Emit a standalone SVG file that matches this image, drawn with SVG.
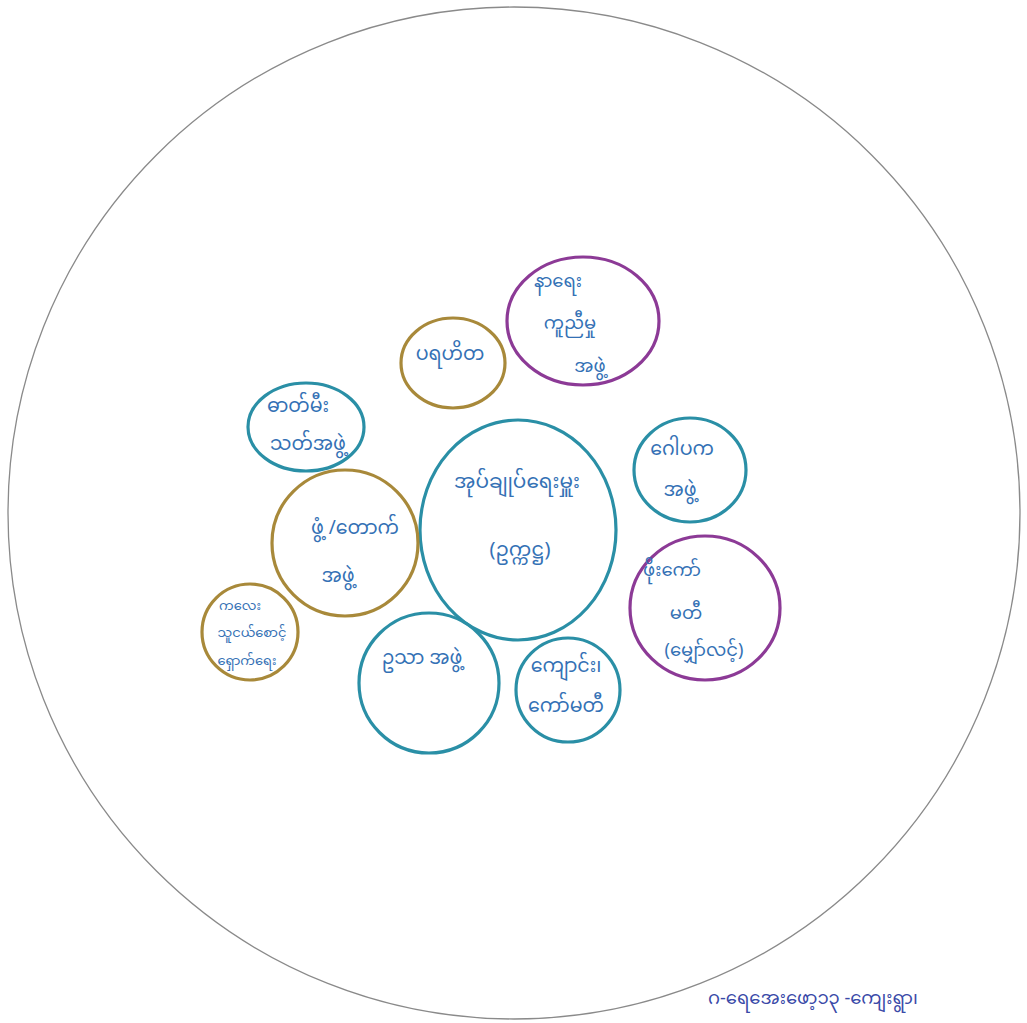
<svg xmlns="http://www.w3.org/2000/svg" width="1027" height="1023" viewBox="0 0 1027 1023">
<style>
.bg{fill:#ffffff}
.outer{fill:none;stroke:#8a8a8a;stroke-width:1.3}
.blue{fill:none;stroke:#2a8fa6;stroke-width:3.2}
.brown{fill:none;stroke:#a8893a;stroke-width:3.2}
.purple{fill:none;stroke:#8c3a96;stroke-width:3.2}
.t{font-family:"Noto Sans Myanmar","Padauk","Myanmar Text","Noto Sans","DejaVu Sans",sans-serif;fill:#3471b5;font-size:19px;text-anchor:middle}
.big{font-size:20px}
.md{font-size:18px}
.sm{font-size:13px}
.foot{font-family:"Noto Sans Myanmar","Padauk","Myanmar Text","Noto Sans","DejaVu Sans",sans-serif;fill:#3a4aa8;font-size:18px}
</style>
<rect class="bg" x="0" y="0" width="1027" height="1023"/>
<g id="boundary"><circle class="outer" cx="514" cy="513" r="506"/></g>
<g id="n-center"><ellipse class="blue" cx="518" cy="530" rx="98" ry="110"/>
<text class="t big" x="517" y="488">အုပ်ချုပ်ရေးမှူး</text>
<text class="t big" x="520" y="556">(ဥက္ကဋ္ဌ)</text></g>
<g id="n-funeral"><ellipse class="purple" cx="583" cy="321" rx="76" ry="64"/>
<text class="t md" x="558" y="287">နာရေး</text>
<text class="t md" x="570" y="329">ကူညီမှု</text>
<text class="t md" x="590" y="372">အဖွဲ့</text></g>
<g id="n-charity"><ellipse class="brown" cx="453" cy="363" rx="52" ry="45"/>
<text class="t" x="450" y="360">ပရဟိတ</text></g>
<g id="n-fire"><ellipse class="blue" cx="306" cy="427" rx="58" ry="44"/>
<text class="t" x="298" y="412">ဓာတ်မီး</text>
<text class="t" x="308" y="450">သတ်အဖွဲ့</text></g>
<g id="n-left"><circle class="brown" cx="345" cy="543" r="73"/>
<text class="t" x="355" y="534">ဖွံ့ /တောက်</text>
<text class="t" x="338" y="582">အဖွဲ့</text></g>
<g id="n-child"><circle class="brown" cx="250" cy="632" r="48"/>
<text class="t sm" x="240" y="610">ကလေး</text>
<text class="t sm" x="252" y="637">သူငယ်စောင့်</text>
<text class="t sm" x="247" y="665">ရှောက်ရေး</text></g>
<g id="n-bottom"><circle class="blue" cx="429" cy="683" r="70"/>
<text class="t" x="422" y="664">ဥသာ အဖွဲ့</text></g>
<g id="n-school"><circle class="blue" cx="568" cy="690" r="52"/>
<text class="t" x="566" y="672">ကျောင်း၊</text>
<text class="t" x="566" y="712">ကော်မတီ</text></g>
<g id="n-gopaka"><ellipse class="blue" cx="690" cy="470" rx="56" ry="52"/>
<text class="t" x="682" y="455">ဂေါပက</text>
<text class="t" x="680" y="496">အဖွဲ့</text></g>
<g id="n-committee"><ellipse class="purple" cx="705" cy="608" rx="75" ry="72"/>
<text class="t md" x="672" y="576">ဖိုးကော်</text>
<text class="t md" x="686" y="619">မတီ</text>
<text class="t md" x="704" y="656">(မျှော်လင့်)</text></g>
<text class="foot" x="708" y="1004">ဂ-ရေအေးဖော့၁၃ -ကျေးရွာ၊</text>
</svg>
